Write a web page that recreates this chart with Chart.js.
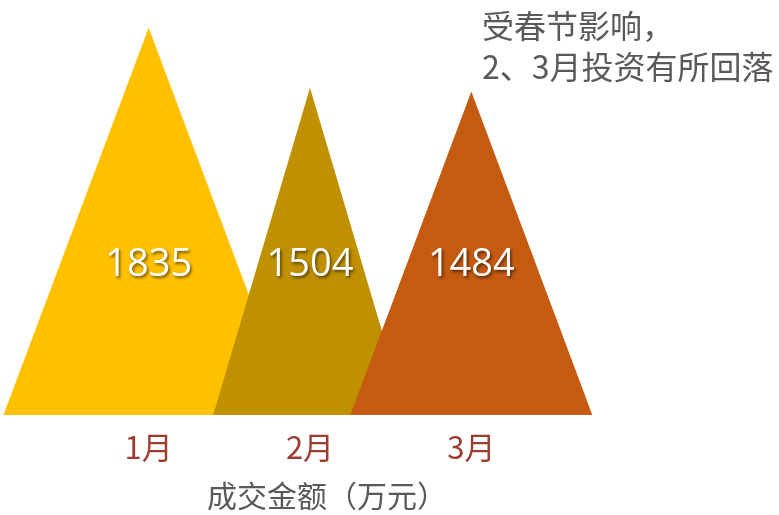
<!DOCTYPE html>
<html>
<head>
<meta charset="utf-8">
<script src="https://cdn.jsdelivr.net/npm/chart.js@4.4.1/dist/chart.umd.min.js"></script>
<style>
  html, body { margin: 0; padding: 0; background: #ffffff; }
  #wrap { position: relative; width: 779px; height: 515px; }
</style>
</head>
<body>
<div id="wrap"><canvas id="c" width="779" height="515"></canvas></div>
<script>
// ---- data ----
const categories = ['1月', '2月', '3月'];
const amounts = [1835, 1504, 1484];
const axisTitle = '成交金额（万元）';
const noteLines = ['受春节影响，', '2、3月投资有所回落'];

// ---- styles ----
const triColors = ['#FFC000', '#BF9000', '#C55A11'];
const triSpread = [0.90, 0.60, 0.75]; // half-width of each triangle, as a fraction of category width
const cjk = '"Noto Sans CJK SC", "Noto Sans", sans-serif';

const trianglePlugin = {
  id: 'triangles',
  afterDatasetsDraw(chart) {
    const ctx = chart.ctx;
    const meta = chart.getDatasetMeta(0);
    const xs = chart.scales.x;
    const catW = xs.width / categories.length;
    const area = chart.chartArea;
    ctx.save();
    meta.data.forEach((el, i) => {
      const hw = triSpread[i] * catW;
      ctx.beginPath();
      ctx.moveTo(el.x - hw, el.base);
      ctx.lineTo(el.x, el.y);
      ctx.lineTo(el.x + hw, el.base);
      ctx.closePath();
      ctx.fillStyle = triColors[i];
      ctx.fill();
    });
    // value labels
    ctx.font = '38px "Open Sans", "Noto Sans", sans-serif';
    ctx.textAlign = 'center';
    ctx.textBaseline = 'middle';
    meta.data.forEach((el, i) => {
      const ly = el.base - (el.base - area.top) * 0.375;
      ctx.shadowColor = 'rgba(0,0,0,0.55)';
      ctx.shadowBlur = 3;
      ctx.shadowOffsetX = 1.5;
      ctx.shadowOffsetY = 1.5;
      ctx.fillStyle = '#ffffff';
      ctx.fillText(String(amounts[i]), el.x, ly);
    });
    ctx.restore();
  },
  afterDraw(chart) {
    const ctx = chart.ctx;
    ctx.save();
    ctx.font = '32px ' + cjk;
    ctx.fillStyle = '#595959';
    ctx.textBaseline = 'middle';
    ctx.textAlign = 'left';
    const w2 = ctx.measureText(noteLines[1]).width;
    const x0 = Math.min(482, chart.width - 4 - w2);
    ctx.fillText(noteLines[0], x0, 26);
    ctx.fillText(noteLines[1], x0, 67);
    // axis title
    ctx.font = '30px ' + cjk;
    ctx.textAlign = 'center';
    ctx.fillText(axisTitle, 327, 496);
    ctx.restore();
  }
};

new Chart(document.getElementById('c'), {
  type: 'bar',
  data: {
    labels: categories,
    datasets: [{
      data: amounts,
      base: -300,
      backgroundColor: 'rgba(0,0,0,0)',
      borderWidth: 0
    }]
  },
  options: {
    responsive: false,
    animation: false,
    layout: { padding: { left: 68, right: 227, top: 16, bottom: 0 } },
    plugins: {
      legend: { display: false },
      tooltip: { enabled: false },
      title: { display: false }
    },
    scales: {
      x: {
        offset: true,
        grid: { display: false, drawTicks: false },
        border: { display: false },
        afterFit(scale) { scale.height = 100; },
        ticks: {
          color: '#9E3D2F',
          padding: 14,
          font: { family: cjk, size: 31 }
        },
        title: { display: false }
      },
      y: {
        display: false,
        min: -300,
        max: 1900
      }
    }
  },
  plugins: [trianglePlugin]
});
</script>
</body>
</html>
